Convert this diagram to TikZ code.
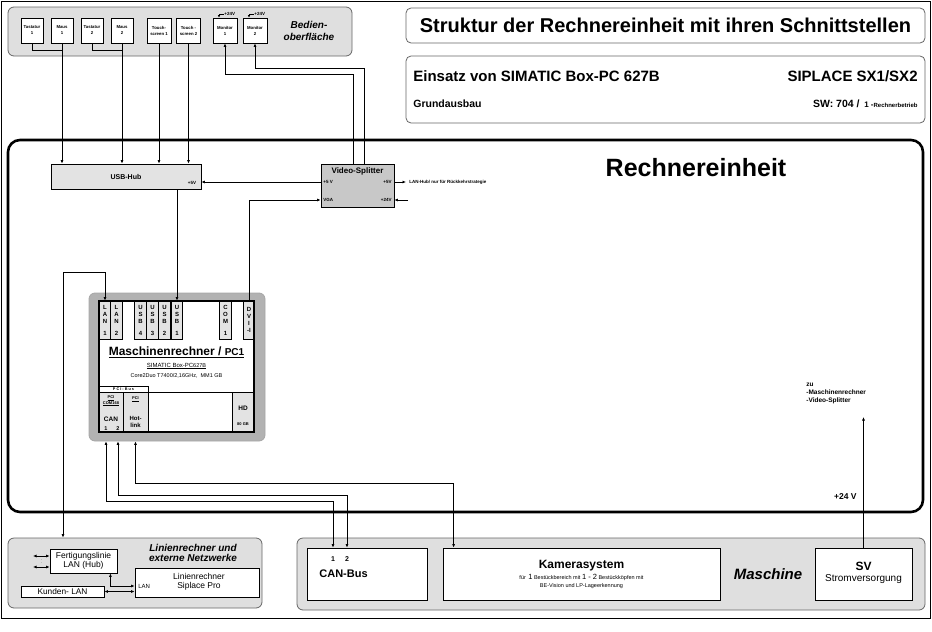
\documentclass[tikz,border=0pt]{standalone}
\usepackage{fontspec}
\setmainfont{Liberation Sans}
\usetikzlibrary{arrows.meta,calc}

\newcommand{\schrift}[2]{\fontsize{#1}{#2}\selectfont}

\tikzset{
  pfeil/.style={-{Latex[length=3.5pt,width=3pt]}},
  doppel/.style={{Latex[length=3.5pt,width=3pt]}-{Latex[length=3.5pt,width=3pt]}},
  feld/.style={draw=gray!80!black, fill=gray!25, rounded corners=6pt, line width=0.8pt},
  titel/.style={draw=gray!80!black, fill=white, rounded corners=5pt, line width=0.8pt},
  kasten/.style={draw, fill=white, line width=0.8pt, align=center},
  geraet/.style={kasten, minimum width=22pt, minimum height=25pt, font=\bfseries\schrift{4.3}{6}},
  port/.style={draw, fill=gray!22, minimum width=11.5pt, minimum height=38pt, align=center, font=\bfseries\schrift{6}{7}},
  zelle/.style={draw, fill=gray!22, minimum height=40pt},
  klein/.style={font=\bfseries\schrift{4.5}{5}},
}

\begin{document}
\begin{tikzpicture}[x=1pt, y=-1pt, every node/.style={inner sep=0pt}, line width=0.8pt]

  \useasboundingbox (0,0) rectangle (932,632);
  \draw[line width=1pt] (1,1) rectangle (930,618);

  % ***************** BEDIENOBERFLAECHE *****************
  \node[feld, minimum width=344pt, minimum height=49pt] (bedien) at (180,31.5) {};

  \node[geraet] (tast1) at (32,30.5) {Tastatur\\1};
  \node[geraet] (maus1) at (62,30.5) {Maus\\1};
  \node[geraet] (tast2) at (92,30.5) {Tastatur\\2};
  \node[geraet] (maus2) at (122,30.5) {Maus\\2};
  \node[geraet, minimum width=24pt] (touch1) at (159,30.5) {Touch-\\screen 1};
  \node[geraet, minimum width=24pt] (touch2) at (188.5,30.5) {Touch -\\screen 2};
  \node[geraet, minimum width=24pt] (mon1) at (225,30.5) {Monitor\\1};
  \node[geraet, minimum width=24pt] (mon2) at (255,30.5) {Monitor\\2};

  \node[font=\bfseries\itshape\schrift{10}{12.5}, align=center] (t_bedien) at (309,31) {Bedien-\\oberfläche};

  \node[klein, anchor=west] (v24m1) at (224,14) {+24V};
  \node[klein, anchor=west] (v24m2) at (254,14) {+24V};
  \draw[-{Latex[length=2.5pt,width=2.5pt]}] (v24m1.west) -| ($(mon1.north)+(-6,0)$);
  \draw[-{Latex[length=2.5pt,width=2.5pt]}] (v24m2.west) -| ($(mon2.north)+(-6,0)$);

  % ***************** TITEL *****************
  \node[titel, minimum width=519pt, minimum height=35pt, font=\bfseries\schrift{20}{24}] (titel) at (665.5,25.5) {Struktur der Rechnereinheit mit ihren Schnittstellen};

  \node[titel, minimum width=519pt, minimum height=67pt] (einsatz) at (665.5,89.5) {};
  \node[anchor=west, font=\bfseries\schrift{15}{18}] (t_einsatz) at (413,76) {Einsatz von SIMATIC Box-PC 627B};
  \node[anchor=east, font=\bfseries\schrift{15}{18}] (t_siplace) at (918,76) {SIPLACE SX1/SX2};
  \node[anchor=west, font=\bfseries\schrift{10.5}{12}] (t_grund) at (413,104) {Grundausbau};
  \node[anchor=east, font=\bfseries\schrift{10.5}{12}] (t_sw) at (918,104) {SW: 704 / \,{\schrift{8}{9}1 -}{\schrift{6}{7}Rechnerbetrieb}};

  % ***************** RECHNEREINHEIT *****************
  \node[draw, line width=2.6pt, rounded corners=12pt, minimum width=915pt, minimum height=372pt] (rechner) at (465.5,326) {};
  \node[font=\bfseries\schrift{25}{30}] (t_rechner) at (696,168) {Rechnereinheit};

  % USB-Hub
  \node[kasten, fill=gray!22, minimum width=150pt, minimum height=25pt, font=\bfseries\schrift{7}{8}] (usbhub) at (126,176.5) {USB-Hub};
  \node[klein] (hub5v) at (192,183) {+5V};

  % Video-Splitter
  \node[kasten, fill=gray!43, minimum width=73pt, minimum height=43pt] (vsplit) at (357.5,185.5) {};
  \node[font=\bfseries\schrift{8}{9}] (t_vsplit) at (357.5,171) {Video-Splitter};
  \node[klein, anchor=west] (vs5l) at (323,182) {+5 V};
  \node[klein, anchor=east] (vs5r) at (392,182) {+5V};
  \node[klein, anchor=west] (vsvga) at (323,200) {VGA};
  \node[klein, anchor=east] (vs24) at (392,200) {+24V};
  \node[klein, anchor=west] (lanhub) at (409,182) {LAN-Hub/ nur für Rückkehrstrategie};
  \coordinate (ein24) at (408,200);

  % ***************** MASCHINENRECHNER *****************
  \node[draw=gray!70, fill=gray!60, rounded corners=6pt, minimum width=176pt, minimum height=148pt] (pcgeh) at (177,367) {};
  \node[fill=white, minimum width=155pt, minimum height=131pt] (pc) at (176.5,366.5) {};

  \node[port] (lan1) at (105,320) {L\\A\\N\\[5pt]1};
  \node[port] (lan2) at (116.5,320) {L\\A\\N\\[5pt]2};
  \node[port] (usb4) at (140.5,320) {U\\S\\B\\[5pt]4};
  \node[port] (usb3) at (152.5,320) {U\\S\\B\\[5pt]3};
  \node[port] (usb2) at (164.5,320) {U\\S\\B\\[5pt]2};
  \node[port] (usb1) at (177,320) {U\\S\\B\\[5pt]1};
  \node[port] (com1) at (225.5,320) {C\\O\\M\\[5pt]1};
  \node[port, minimum width=10.5pt] (dvi) at (249,320) {D\\V\\I\\-I};

  \node[font=\bfseries\schrift{12}{14}] (t_pc) at (176.5,352) {\underline{Maschinenrechner / {\schrift{10}{12}PC1}}};
  \node[font=\schrift{6}{7}] (t_simatic) at (176.5,366) {\underline{SIMATIC Box-PC{\schrift{5.5}{6}627B}}};
  \node[font=\schrift{5.5}{6}] (t_core) at (176.5,376) {Core2Duo T7400/2,16GHz, \ MM1 GB};

  \node[draw, fill=white, line width=0.5pt, minimum width=49pt, minimum height=6pt, font=\bfseries\schrift{3.8}{4}] (pcibus) at (123.5,389) {P C I - B u s};
  \node[zelle, minimum width=24pt] (can) at (111,412) {};
  \node[zelle, minimum width=25pt] (hot) at (135.5,412) {};
  \node[draw, minimum width=84pt, minimum height=40pt] (frei) at (190,412) {};
  \node[zelle, minimum width=22pt] (hd) at (243,412) {};

  \node[font=\bfseries\schrift{4}{5.5}, align=center] (t_pcican) at (111,401) {\underline{PCI}\\\underline{COM168}};
  \node[font=\bfseries\schrift{6.5}{7}] (t_can) at (111,419) {CAN};
  \node[font=\bfseries\schrift{5.5}{6}] (t_can1) at (106,428.5) {1};
  \node[font=\bfseries\schrift{5.5}{6}] (t_can2) at (118,428.5) {2};
  \node[font=\bfseries\schrift{4}{5}] (t_pcihot) at (135.5,399) {\underline{PCI}};
  \node[font=\bfseries\schrift{6}{7}, align=center] (t_hot) at (135.5,422) {Hot-\\link};
  \node[font=\bfseries\schrift{6.5}{7}] (t_hd) at (243,408) {HD};
  \node[font=\bfseries\schrift{4}{5}] (t_hdgb) at (243,424) {80 GB};

  \draw[line width=2pt] (pc.south west) rectangle (pc.north east);

  % ***************** LINIENRECHNER *****************
  \node[feld, minimum width=254pt, minimum height=70pt] (linfeld) at (135,573) {};
  \node[kasten, minimum width=67pt, minimum height=24pt, font=\schrift{8.5}{9.5}] (fert) at (83.5,561) {Fertigungslinie\\LAN (Hub)};
  \node[kasten, minimum width=124pt, minimum height=29pt] (linien) at (197,582.5) {};
  \node[font=\schrift{8.5}{9.5}, align=center] (t_linien) at (199,582) {Linienrechner\\Siplace Pro};
  \node[font=\schrift{6}{7}, anchor=west] (t_lan) at (138,586) {LAN};
  \node[kasten, minimum width=83pt, minimum height=11pt, font=\schrift{8.3}{9}] (kunden) at (62.5,591.5) {Kunden- LAN};
  \node[font=\bfseries\itshape\schrift{10}{10.5}, align=center] (t_linfeld) at (193,553) {Linienrechner und\\externe Netzwerke};

  \coordinate (ext1) at (33,556);
  \coordinate (ext2) at (33,567);
  \draw[doppel] (ext1) -- (fert.west |- ext1);
  \draw[doppel] (ext2) -- (fert.west |- ext2);
  \draw[gray!50, dotted, line width=1pt] (41,559) -- (41,564);
  \draw[doppel] ($(fert.south east)+(-7,0)$) |- (linien.west |- t_lan);
  \draw[doppel] (kunden.east) -- (linien.west |- kunden.east);

  % ***************** MASCHINE *****************
  \node[feld, minimum width=628pt, minimum height=72pt] (maschfeld) at (611,574) {};
  \node[kasten, minimum width=120pt, minimum height=52pt] (canbus) at (367,574) {};
  \node[font=\bfseries\schrift{7}{8}] (cb1) at (333,559) {1};
  \node[font=\bfseries\schrift{7}{8}] (cb2) at (347,559) {2};
  \node[font=\bfseries\schrift{11}{12}, anchor=west] (t_canbus) at (319,574) {CAN-Bus};

  \node[kasten, minimum width=277pt, minimum height=52pt] (kamera) at (581.5,574) {};
  \node[font=\bfseries\schrift{12}{14}] (t_kamera) at (581.5,566) {Kamerasystem};
  \node[font=\schrift{5.5}{8}, align=center] (t_kamera2) at (581.5,581) {für \,{\schrift{7.5}{8}1} Bestückbereich mit {\schrift{7.5}{8}1 - 2} Bestückköpfen mit\\BE-Vision und LP-Lageerkennung};

  \node[font=\bfseries\itshape\schrift{15}{17}] (t_masch) at (768,574) {Maschine};

  \node[kasten, minimum width=97pt, minimum height=52pt] (sv) at (863.5,574) {};
  \node[font=\bfseries\schrift{12}{14}] (t_sv) at (863.5,566) {SV};
  \node[font=\schrift{10}{12}] (t_strom) at (863.5,579) {Stromversorgung};

  \node[font=\bfseries\schrift{6.5}{8}, align=left, anchor=north west] (t_zu) at (806,383) {zu\\-Maschinenrechner\\-Video-Splitter};
  \node[font=\bfseries\schrift{8.5}{10}, anchor=east] (t_24v) at (857,497) {+24 V};
  \coordinate (ziel24) at (863.5,417);

  % ***************** VERBINDUNGEN *****************
  \draw (tast1.south) |- ($(maus1.south)+(0,7)$);
  \draw[pfeil] (maus1.south) -- (maus1.south |- usbhub.north);
  \draw (tast2.south) |- ($(maus2.south)+(0,7)$);
  \draw[pfeil] (maus2.south) -- (maus2.south |- usbhub.north);
  \draw[pfeil] (touch1.south) -- (touch1.south |- usbhub.north);
  \draw[pfeil] (touch2.south) -- (touch2.south |- usbhub.north);

  \draw[pfeil] ($(vsplit.north)+(-4.5,0)$) |- ($(mon1.south)+(0,31)$) -- (mon1.south);
  \draw[pfeil] ($(vsplit.north)+(6.5,0)$) |- ($(mon2.south)+(0,25)$) -- (mon2.south);

  \draw[pfeil] (vsplit.west |- vs5l) -- (usbhub.east |- vs5l);
  \draw[pfeil] (vsplit.east |- vs5r) -- ($(lanhub.west)+(-3,0)$);
  \draw[pfeil] (ein24) -- (vsplit.east |- ein24);
  \draw[pfeil] (dvi.north) |- (vsplit.west |- vsvga);
  \draw[pfeil] (usbhub.south -| usb1) -- (usb1.north);

  \coordinate (knick0) at (63,272);
  \draw[doppel] (lan1.north) |- (knick0) -- (knick0 |- linfeld.north);

  \coordinate (knick1) at (0,501);
  \coordinate (knick2) at (0,495);
  \coordinate (knick3) at (0,483);
  \draw[doppel] (pcgeh.south -| t_can1) -- (t_can1 |- knick1) -| (cb1 |- canbus.north);
  \draw[doppel] (pcgeh.south -| t_can2) -- (t_can2 |- knick2) -| (cb2 |- canbus.north);
  \draw[doppel] (pcgeh.south -| t_hot) -- (t_hot |- knick3) -| ($(kamera.north west)+(11,0)$);

  \draw[pfeil] (sv.north) -- (ziel24);

\end{tikzpicture}
\end{document}
